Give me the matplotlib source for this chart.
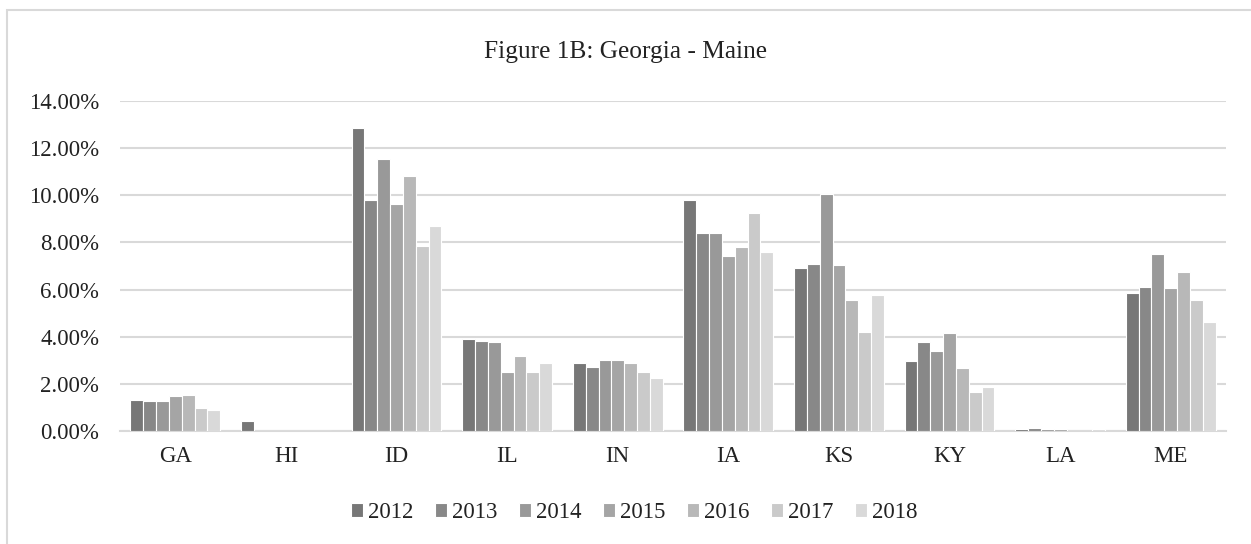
import numpy as np
import matplotlib.pyplot as plt
from matplotlib.patches import Rectangle
from matplotlib.ticker import FuncFormatter

plt.rcParams['font.family'] = ['Liberation Serif', 'DejaVu Serif']

# Données (en %)
etats = ['GA', 'HI', 'ID', 'IL', 'IN', 'IA', 'KS', 'KY', 'LA', 'ME']
annees = ['2012', '2013', '2014', '2015', '2016', '2017', '2018']
v2012 = [1.32, 0.40, 12.84, 3.88, 2.89, 9.80, 6.92, 2.96, 0.07, 5.84]
v2013 = [1.27, 0.00, 9.80, 3.82, 2.73, 8.39, 7.09, 3.76, 0.11, 6.11]
v2014 = [1.27, 0.00, 11.54, 3.76, 3.00, 8.39, 10.07, 3.38, 0.07, 7.52]
v2015 = [1.49, 0.00, 9.65, 2.52, 3.00, 7.41, 7.03, 4.14, 0.07, 6.06]
v2016 = [1.54, 0.00, 10.83, 3.17, 2.89, 7.79, 5.56, 2.69, 0.00, 6.76]
v2017 = [0.99, 0.00, 7.85, 2.52, 2.50, 9.26, 4.19, 1.64, 0.00, 5.56]
v2018 = [0.89, 0.00, 8.71, 2.89, 2.23, 7.58, 5.77, 1.87, 0.07, 4.64]
series = [v2012, v2013, v2014, v2015, v2016, v2017, v2018]
couleurs = ['#777777', '#888888', '#999999', '#a5a5a5', '#b8b8b8', '#cacaca', '#d9d9d9']

fig = plt.figure(figsize=(12.51, 5.44), dpi=100)
ax = fig.add_axes([0.096, 0.208, 0.884, 0.606])

x = np.arange(len(etats))
larg = 0.116
for i, (vals, c) in enumerate(zip(series, couleurs)):
    pos = x + (i - 3) * larg
    ax.bar(pos, np.array(vals) / 100, width=larg, color=c, edgecolor='white',
           linewidth=0.8, label=annees[i], zorder=3)

ax.set_xlim(-0.5, len(etats) - 0.5)
ax.set_ylim(0, 0.14)
ax.set_yticks(np.arange(0, 0.141, 0.02))
ax.yaxis.set_major_formatter(FuncFormatter(lambda v, p: f'{v * 100:.2f}%'))
ax.set_xticks(x)
ax.set_xticklabels(etats)
ax.tick_params(axis='both', length=0, labelsize=16.5, colors='#222222')
ax.tick_params(axis='x', pad=11)
ax.tick_params(axis='y', pad=15)
ax.grid(axis='y', color='#d9d9d9', linewidth=1.5, zorder=0)
for s in ['top', 'right', 'left']:
    ax.spines[s].set_visible(False)
ax.spines['bottom'].set_color('#d9d9d9')
ax.spines['bottom'].set_linewidth(1.5)

fig.text(0.5, 0.905, 'Figure 1B: Georgia - Maine', ha='center', va='center',
         fontsize=18.3, color='#222222')

leg = fig.legend(loc='center', bbox_to_anchor=(0.507, 0.058), ncol=7, frameon=False,
                 fontsize=16.5, handlelength=0.52, handleheight=0.52,
                 handletextpad=0.22, columnspacing=0.95)
for t in leg.get_texts():
    t.set_color('#222222')

# cadre du graphique (coupé à droite et en bas dans l'original)
fig.patches.append(Rectangle((0.0056, -0.05), 1.1, 1.032, transform=fig.transFigure,
                             fill=False, edgecolor='#d9d9d9', linewidth=1.5))

plt.savefig('out.png', dpi=100)
